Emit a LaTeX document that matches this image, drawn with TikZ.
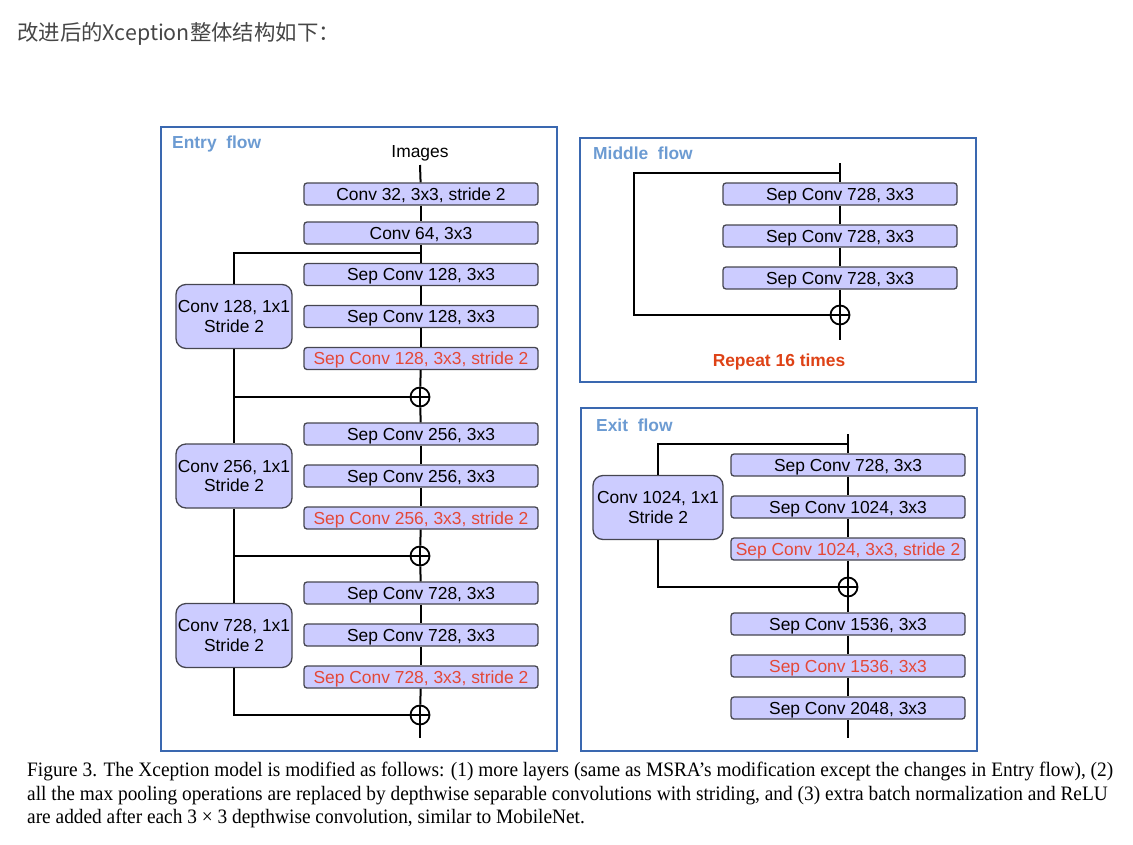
\documentclass[tikz,border=0pt]{standalone}
\usepackage{graphicx}
\usepackage{fontspec}
\setmainfont{Liberation Sans}
\newfontfamily\cjkfont{Noto Sans CJK SC}
\newfontfamily\capfont{Liberation Serif}
\definecolor{boxfill}{RGB}{204,204,255}
\definecolor{boxline}{RGB}{70,70,80}
\definecolor{redtxt}{RGB}{228,72,56}
\definecolor{frameblue}{RGB}{58,104,176}
\definecolor{titleblue}{RGB}{108,155,210}
\definecolor{repeatred}{RGB}{222,66,22}
\definecolor{cjkgrey}{RGB}{70,70,70}
\newcommand\boxfont{\fontsize{17.4}{19.7}\selectfont}
\newcommand\capsize{\fontsize{20.5}{23.5}\selectfont}
\newlength\capw
\tikzset{
  capc/.style={text height=12.5pt, text depth=0pt},
  layer/.style={draw=boxline, fill=boxfill, line width=1.3pt, rounded corners=3pt,
    minimum width=234pt, minimum height=22pt, inner sep=0pt, font=\boxfont, capc},
  redlayer/.style={layer, text=redtxt},
  side/.style={draw=boxline, fill=boxfill, line width=1.3pt, rounded corners=10pt,
    minimum width=116pt, minimum height=64pt, inner sep=0pt, align=center, font=\boxfont},
  add/.style={circle, draw=black, fill=white, line width=1.8pt, minimum size=19pt, inner sep=0pt,
    path picture={\draw[line width=1.5pt] (path picture bounding box.west) -- (path picture bounding box.east)
      (path picture bounding box.north) -- (path picture bounding box.south);}},
  conn/.style={line width=2pt, black},
  frame/.style={draw=frameblue, line width=2pt},
  ftitle/.style={anchor=west, inner sep=0pt, text=titleblue, font=\boxfont\bfseries, capc},
}
\begin{document}
\settowidth\capw{\capfont\capsize Figure 3. The Xception model is modified as follows: (1) more layers (same as MSRA’s modification except the changes in Entry flow), (2)}%
\pgfmathsetmacro\capf{1086/\capw}%
\begin{tikzpicture}[x=1pt,y=-1pt]
\useasboundingbox (0,0) rectangle (1133,844);

% heading
\node[anchor=base west, inner sep=0pt, text=cjkgrey, font=\fontsize{21.4}{25}\selectfont] (head) at (17,40) {\cjkfont 改进后的Xception整体结构如下：};

% frames
\draw[frame] (161,127) rectangle (557,751);
\draw[frame] (580,138) rectangle (976,382);
\draw[frame] (581,408) rectangle (977,751);
\node[ftitle] (tentry) at (172,142) {Entry~~flow};
\node[ftitle] (tmid) at (593,153) {Middle~~flow};
\node[ftitle] (texit) at (596,425) {Exit~~flow};

% ---------- entry flow ----------
\node[inner sep=0pt, font=\boxfont, capc] (img) at (420,151.5) {Images};
\node[layer] (c1) at (421,194) {Conv 32, 3x3, stride 2};
\node[layer] (c2) at (421,233) {Conv 64, 3x3};
\node[layer] (e1) at (421,274.5) {Sep Conv 128, 3x3};
\node[layer] (e2) at (421,316.5) {Sep Conv 128, 3x3};
\node[redlayer] (e3) at (421,358.5) {Sep Conv 128, 3x3, stride 2};
\node[add] (p1) at (420,397) {};
\node[layer] (f1) at (421,434) {Sep Conv 256, 3x3};
\node[layer] (f2) at (421,476) {Sep Conv 256, 3x3};
\node[redlayer] (f3) at (421,518) {Sep Conv 256, 3x3, stride 2};
\node[add] (p2) at (420,556) {};
\node[layer] (g1) at (421,593) {Sep Conv 728, 3x3};
\node[layer] (g2) at (421,635) {Sep Conv 728, 3x3};
\node[redlayer] (g3) at (421,677) {Sep Conv 728, 3x3, stride 2};
\node[add] (p3) at (420,715) {};
\coordinate (eend) at (420,738);
\coordinate (itop) at (420,165);

\node[side] (r1) at (234,316.5) {Conv 128, 1x1\\Stride 2};
\node[side] (r2) at (234,476) {Conv 256, 1x1\\Stride 2};
\node[side] (r3) at (234,635.5) {Conv 728, 1x1\\Stride 2};

\coordinate (s1) at (420,253);
\coordinate (t1) at (234,253);
\coordinate (k1) at (234,397);
\coordinate (k2) at (234,556);
\coordinate (k3) at (234,715);

\draw[conn] (itop) -- (c1);
\draw[conn] (c1) -- (c2);
\draw[conn] (c2) -- (e1);
\draw[conn] (e1) -- (e2);
\draw[conn] (e2) -- (e3);
\draw[conn] (e3) -- (p1);
\draw[conn] (p1) -- (f1);
\draw[conn] (f1) -- (f2);
\draw[conn] (f2) -- (f3);
\draw[conn] (f3) -- (p2);
\draw[conn] (p2) -- (g1);
\draw[conn] (g1) -- (g2);
\draw[conn] (g2) -- (g3);
\draw[conn] (g3) -- (p3);
\draw[conn] (p3) -- (eend);
\draw[conn] (s1) -- (t1) -- (r1);
\draw[conn] (r1) -- (k1) -- (p1);
\draw[conn] (k1) -- (r2);
\draw[conn] (r2) -- (k2) -- (p2);
\draw[conn] (k2) -- (r3);
\draw[conn] (r3) -- (k3) -- (p3);

% ---------- middle flow ----------
\node[layer] (m1) at (840,194) {Sep Conv 728, 3x3};
\node[layer] (m2) at (840,236) {Sep Conv 728, 3x3};
\node[layer] (m3) at (840,278) {Sep Conv 728, 3x3};
\node[add] (mp) at (840,315) {};
\coordinate (mtop) at (840,163);
\coordinate (ms) at (840,173);
\coordinate (ml) at (634,173);
\coordinate (mb) at (634,315);
\coordinate (mend) at (840,340);
\draw[conn] (mtop) -- (m1);
\draw[conn] (m1) -- (m2);
\draw[conn] (m2) -- (m3);
\draw[conn] (m3) -- (mp);
\draw[conn] (mp) -- (mend);
\draw[conn] (ms) -- (ml) -- (mb) -- (mp);
\node[inner sep=0pt, text=repeatred, font=\boxfont\bfseries, capc] (rep) at (779,360) {Repeat 16 times};

% ---------- exit flow ----------
\node[layer] (x1) at (848,465) {Sep Conv 728, 3x3};
\node[layer] (x2) at (848,507) {Sep Conv 1024, 3x3};
\node[redlayer] (x3) at (848,549) {Sep Conv 1024, 3x3, stride 2};
\node[add] (xp) at (848,587) {};
\node[layer] (x4) at (848,624) {Sep Conv 1536, 3x3};
\node[redlayer] (x5) at (848,666) {Sep Conv 1536, 3x3};
\node[layer] (x6) at (848,708) {Sep Conv 2048, 3x3};
\node[side, minimum width=130pt] (xr) at (658,507.5) {Conv 1024, 1x1\\Stride 2};
\coordinate (xtop) at (848,434);
\coordinate (xs) at (848,444);
\coordinate (xl) at (658,444);
\coordinate (xk) at (658,587);
\coordinate (xend) at (848,738);
\draw[conn] (xtop) -- (x1);
\draw[conn] (x1) -- (x2);
\draw[conn] (x2) -- (x3);
\draw[conn] (x3) -- (xp);
\draw[conn] (xp) -- (x4);
\draw[conn] (x4) -- (x5);
\draw[conn] (x5) -- (x6);
\draw[conn] (x6) -- (xend);
\draw[conn] (xs) -- (xl) -- (xr);
\draw[conn] (xr) -- (xk) -- (xp);

% ---------- caption ----------
\node[anchor=base west, inner sep=0pt] (cap1) at (27,776) {\scalebox{\capf}[1]{\capfont\capsize Figure 3. The Xception model is modified as follows: (1) more layers (same as MSRA’s modification except the changes in Entry flow), (2)}};
\node[anchor=base west, inner sep=0pt] (cap2) at (27,800) {\scalebox{\capf}[1]{\capfont\capsize all the max pooling operations are replaced by depthwise separable convolutions with striding, and (3) extra batch normalization and ReLU}};
\node[anchor=base west, inner sep=0pt] (cap3) at (27,823.5) {\scalebox{\capf}[1]{\capfont\capsize are added after each 3 × 3 depthwise convolution, similar to MobileNet.}};
\end{tikzpicture}
\end{document}
